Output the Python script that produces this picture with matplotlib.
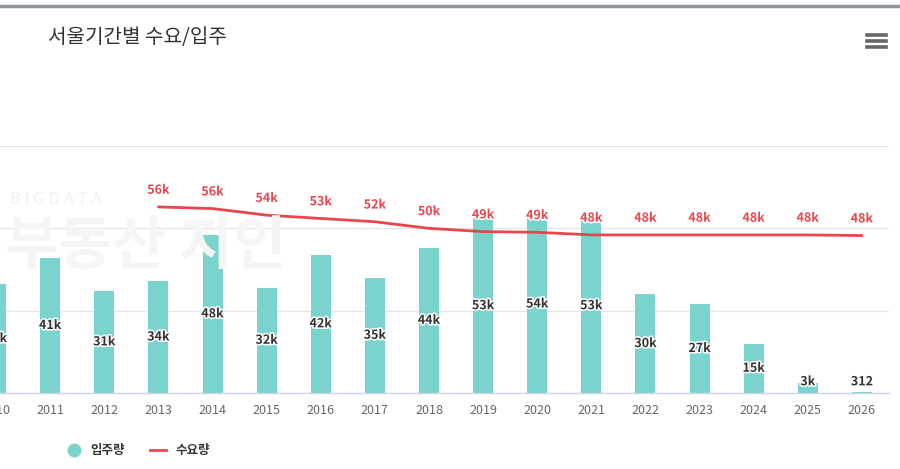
import matplotlib
matplotlib.use("Agg")
import matplotlib.pyplot as plt
import matplotlib.patheffects as pe
from matplotlib.lines import Line2D

plt.rcParams['font.family'] = ['Noto Sans CJK KR', 'DejaVu Sans']

years = ['2010', '2011', '2012', '2013', '2014', '2015', '2016', '2017', '2018',
         '2019', '2020', '2021', '2022', '2023', '2024', '2025', '2026']
supply = [33000, 41000, 31000, 34000, 48000, 32000, 42000, 35000, 44000,
          53000, 54000, 53000, 30000, 27000, 15000, 3000, 312]
supply_labels = ['33k', '41k', '31k', '34k', '48k', '32k', '42k', '35k', '44k',
                 '53k', '54k', '53k', '30k', '27k', '15k', '3k', '312']
demand_years = ['2013', '2014', '2015', '2016', '2017', '2018', '2019', '2020',
                '2021', '2022', '2023', '2024', '2025', '2026']
demand = [56500, 56000, 54000, 53000, 52000, 50000, 49000, 48800,
          48000, 48000, 48000, 48000, 48000, 47800]
demand_labels = ['56k', '56k', '54k', '53k', '52k', '50k', '49k', '49k',
                 '48k', '48k', '48k', '48k', '48k', '48k']
title = '서울기간별 수요/입주'
legend_names = ['입주량', '수요량']

W, H = 900, 469
TEAL = '#7ad3cc'
RED = '#e8464f'

fig = plt.figure(figsize=(9, 4.69), dpi=100)


def fx(px):
    return px / W


def fy(py):
    return 1 - py / H


ax = fig.add_axes([fx(-31), fy(393), fx(920), fy(146) - fy(393)])
x = list(range(len(years)))
ax.bar(x, supply, width=0.37, color=TEAL, zorder=2)
dx = [years.index(y) for y in demand_years]
ax.plot(dx, demand, color=RED, lw=2, zorder=3, solid_capstyle='round')

ax.set_xlim(-0.5, len(years) - 0.5)
ax.set_ylim(0, 75000)
ax.set_yticks([0, 25000, 50000, 75000])
ax.yaxis.grid(True, color='#e6e6e6', lw=1, zorder=0)
ax.set_axisbelow(True)
ax.set_yticklabels([])
ax.tick_params(axis='y', length=0)
for s in ['top', 'right', 'left']:
    ax.spines[s].set_visible(False)
ax.spines['bottom'].set_color('#ccd6eb')
ax.spines['bottom'].set_linewidth(1)
ax.set_xticks(x)
ax.set_xticklabels(years)
ax.tick_params(axis='x', length=0, pad=8, labelsize=9, labelcolor='#666666')
ax.patch.set_alpha(0)

outline = [pe.withStroke(linewidth=2.2, foreground='white')]
for xi, v, lab in zip(x, supply, supply_labels):
    ax.text(xi, max(v / 2, 3400), lab, ha='center', va='center', fontsize=9,
            fontweight='bold', color='#333333', path_effects=outline, zorder=4)
for xi, v, lab in zip(dx, demand, demand_labels):
    ax.annotate(lab, (xi, v), xytext=(0, 12), textcoords='offset points',
                ha='center', va='center', fontsize=9, fontweight='bold',
                color=RED, path_effects=outline, zorder=4)

# faint watermark
fig.text(fx(10), fy(200), 'B I G D A T A', fontsize=12, color='#f2f2f2',
         ha='left', va='center', zorder=0)
fig.text(fx(5), fy(247), '부동산 지인', fontsize=42, fontweight='bold',
         color='#f5f5f5', ha='left', va='center', zorder=0)

# top border
fig.add_artist(Line2D([0, 1], [fy(6), fy(6)], color='#90969a', lw=2.5,
                      transform=fig.transFigure))
# title
fig.text(fx(48), fy(38), title, fontsize=14.5, color='#333333', ha='left',
         va='center')
# hamburger icon
for yy in (35, 41, 47):
    fig.add_artist(Line2D([fx(867), fx(886)], [fy(yy), fy(yy)], color='#666666',
                          lw=2.6, transform=fig.transFigure))

# legend
fig.add_artist(Line2D([fx(74)], [fy(450)], marker='o', markersize=9,
                      markerfacecolor=TEAL, markeredgecolor=TEAL, lw=0,
                      transform=fig.transFigure))
fig.text(fx(90), fy(450), legend_names[0], fontsize=9, fontweight='bold',
         color='#333333', ha='left', va='center')
fig.add_artist(Line2D([fx(150), fx(166)], [fy(450), fy(450)], color=RED, lw=2,
                      transform=fig.transFigure))
fig.text(fx(175), fy(450), legend_names[1], fontsize=9, fontweight='bold',
         color='#333333', ha='left', va='center')

fig.savefig('out.png', dpi=100)
